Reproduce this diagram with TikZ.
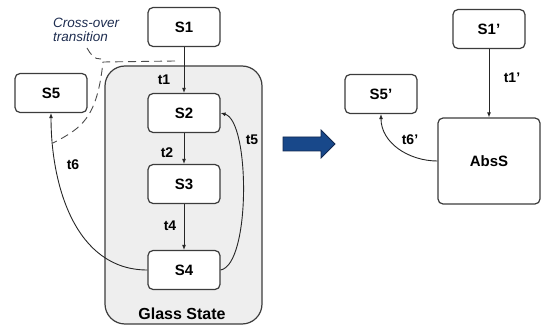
\documentclass[tikz,border=0pt]{standalone}
\usepackage{fontspec}
\setmainfont{Liberation Sans}
\usetikzlibrary{arrows.meta,positioning,shapes}
\definecolor{boxline}{RGB}{60,60,60}
\definecolor{glassfill}{RGB}{238,238,238}
\definecolor{notecol}{RGB}{30,45,80}
\definecolor{arrowfill}{RGB}{24,72,138}
\definecolor{arrowline}{RGB}{18,40,80}
\tikzset{
    x=1pt,y=-1pt,
    state/.style={rectangle, rounded corners=5pt, draw=boxline, line width=1.2pt, fill=white, minimum width=72pt, minimum height=39pt, font=\fontsize{15}{17}\selectfont\bfseries},
    glass/.style={rectangle, rounded corners=20pt, draw=boxline, line width=1.2pt, fill=glassfill, minimum width=157pt, minimum height=258pt},
    trans/.style={-{Latex[length=5pt,width=4pt]}, draw=black!85, line width=0.9pt},
    el/.style={font=\fontsize{14}{16}\selectfont\bfseries, inner sep=1pt},
    crossover/.style={dash pattern=on 8pt off 5pt, draw=black!70, line width=0.9pt},
    note/.style={font=\fontsize{13.5}{14}\selectfont\itshape, text=notecol, align=left, inner sep=0pt}
}

\begin{document}
\begin{tikzpicture}
        \useasboundingbox (0,0) rectangle (542,326);
        % Glass state
        \node[glass] (glass) at (183.5,195) {};
        \node[font=\fontsize{16}{18}\selectfont\bfseries] (glasslabel) at (182,314) {Glass State};
        \node[state] (s1) at (184,27) {S1};
        \node[state] (s2) at (184,113) {S2};
        \node[state] (s3) at (184,184) {S3};
        \node[state] (s4) at (184,270) {S4};
        \node[state] (s5) at (51,93) {S5};
        % Transitions
        \path (s1) edge[trans] (s2);
        \path (s2) edge[trans] (s3);
        \path (s3) edge[trans] (s4);
        \path (s4.east) edge[trans, out=10, in=-15, looseness=0.5] (s2.east);
        \path (s4.west) edge[trans, out=180, in=-90] (s5.south);
        \node[el] (t1) at (164,80) {t1};
        \node[el] (t2) at (167,153) {t2};
        \node[el] (t4) at (170,226) {t4};
        \node[el] (t5) at (252,140) {t5};
        \node[el] (t6) at (73,165) {t6};
        % Cross-over transition
        \node[note, anchor=north west] (crossnote) at (53,18) {Cross-over\\transition};
        \coordinate (cross-a) at (175,61);
        \coordinate (cross-b) at (103,62);
        \coordinate (cross-c) at (53,143);
        \draw[crossover] (cross-a) -- (cross-b) .. controls (97,118) and (82,128) .. (cross-c);
        \draw[crossover] (87,48) to[out=-60,in=185] (101,59);
        % Abstraction
        \draw[draw=arrowline, fill=arrowfill, line width=0.8pt] (283,137) -- (321,137) -- (321,130) -- (335,144) -- (321,158) -- (321,151) -- (283,151) -- cycle;
        \node[state] (s1p) at (489,29) {S1’};
        \node[state] (s5p) at (381,94) {S5’};
        \node[state, minimum width=102pt, minimum height=86pt] (abss) at (489,161) {AbsS};
        \path (s1p) edge[trans] (abss);
        \path (abss.west) edge[trans, out=180, in=-90] (s5p.south);
        \node[el] (t1p) at (512,78) {t1’};
        \node[el] (t6p) at (410,140) {t6’};
    \end{tikzpicture}
\end{document}
